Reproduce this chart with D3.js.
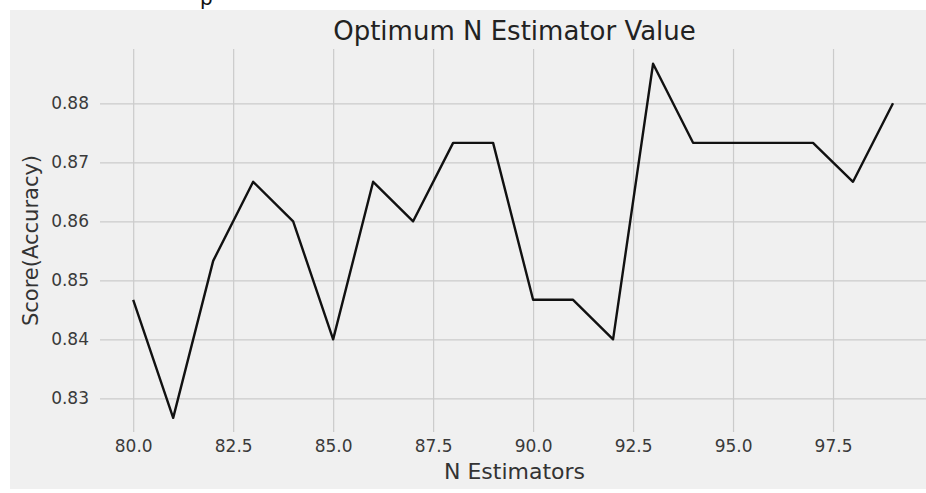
<!DOCTYPE html>
<html>
<head>
<meta charset="utf-8">
<script src="https://cdn.jsdelivr.net/npm/d3@7"></script>
<style>
  body { margin: 0; background: #ffffff; }
  svg text { font-family: "DejaVu Sans", sans-serif; }
</style>
</head>
<body>
<div id="container"></div>
<script>
var width = 926;
var height = 493;

// n_estimators tried and the accuracy for each
var nEstimators = [80, 81, 82, 83, 84, 85, 86, 87, 88, 89, 90, 91, 92, 93, 94, 95, 96, 97, 98, 99];
var scores = [0.8467, 0.8267, 0.8533, 0.8667, 0.8600, 0.8400, 0.8667, 0.8600, 0.8733, 0.8733,
              0.8467, 0.8467, 0.8400, 0.8867, 0.8733, 0.8733, 0.8733, 0.8733, 0.8667, 0.8800];
var xTicks = [80, 82.5, 85, 87.5, 90, 92.5, 95, 97.5];
var yTicks = [0.83, 0.84, 0.85, 0.86, 0.87, 0.88];

var plot = {left: 100, right: 929, top: 49, bottom: 432};

const svg = d3.select("#container")
              .append("svg")
              .attr("width", width)
              .attr("height", height);

// figure background (screenshot has a white border round it)
svg.append("rect")
   .attr("x", 10)
   .attr("y", 10)
   .attr("width", width - 10)
   .attr("height", 479)
   .attr("fill", "#f0f0f0");

// leftover glyph from the line above the screenshot
svg.append("text")
   .attr("x", 200)
   .attr("y", 5)
   .attr("font-size", "20px")
   .attr("fill", "#111")
   .text("p");

const x = d3.scaleLinear()
            .domain([79.17, 99.9])
            .range([plot.left, plot.right]);

const y = d3.scaleLinear()
            .domain([0.8243, 0.8892])
            .range([plot.bottom, plot.top]);

// grid
svg.append("g")
   .attr("transform", `translate(0,${plot.bottom})`)
   .call(d3.axisBottom(x).tickValues(xTicks).tickSize(-(plot.bottom - plot.top)).tickFormat(""))
   .call(g => g.select(".domain").remove())
   .selectAll("line")
   .attr("stroke", "#cbcbcb")
   .attr("stroke-width", 1.2);

svg.append("g")
   .attr("transform", `translate(${plot.left},0)`)
   .call(d3.axisLeft(y).tickValues(yTicks).tickSize(-(plot.right - plot.left)).tickFormat(""))
   .call(g => g.select(".domain").remove())
   .selectAll("line")
   .attr("stroke", "#cbcbcb")
   .attr("stroke-width", 1.2);

// tick labels
svg.append("g")
   .attr("transform", `translate(0,${plot.bottom})`)
   .call(d3.axisBottom(x).tickValues(xTicks).tickSize(0).tickPadding(8).tickFormat(d3.format(".1f")))
   .call(g => g.select(".domain").remove())
   .selectAll("text")
   .attr("font-size", "17px")
   .attr("font-family", "DejaVu Sans")
   .attr("fill", "#3a3a3a");

svg.append("g")
   .attr("transform", `translate(${plot.left},0)`)
   .call(d3.axisLeft(y).tickValues(yTicks).tickSize(0).tickPadding(11).tickFormat(d3.format(".2f")))
   .call(g => g.select(".domain").remove())
   .selectAll("text")
   .attr("font-size", "17px")
   .attr("font-family", "DejaVu Sans")
   .attr("fill", "#3a3a3a");

// the curve
const line = d3.line()
               .x((d, i) => x(nEstimators[i]))
               .y(d => y(d));

svg.append("path")
   .datum(scores)
   .attr("d", line)
   .attr("fill", "none")
   .attr("stroke", "#111111")
   .attr("stroke-width", 2.4)
   .attr("stroke-linejoin", "round");

// titles
svg.append("text")
   .attr("x", (plot.left + plot.right) / 2)
   .attr("y", 40)
   .attr("text-anchor", "middle")
   .attr("font-size", "26px")
   .attr("fill", "#222")
   .text("Optimum N Estimator Value");

svg.append("text")
   .attr("x", (plot.left + plot.right) / 2)
   .attr("y", 479)
   .attr("text-anchor", "middle")
   .attr("font-size", "22px")
   .attr("fill", "#333")
   .text("N Estimators");

svg.append("text")
   .attr("transform", `translate(38,${(plot.top + plot.bottom) / 2}) rotate(-90)`)
   .attr("text-anchor", "middle")
   .attr("font-size", "21px")
   .attr("fill", "#333")
   .text("Score(Accuracy)");
</script>
</body>
</html>
